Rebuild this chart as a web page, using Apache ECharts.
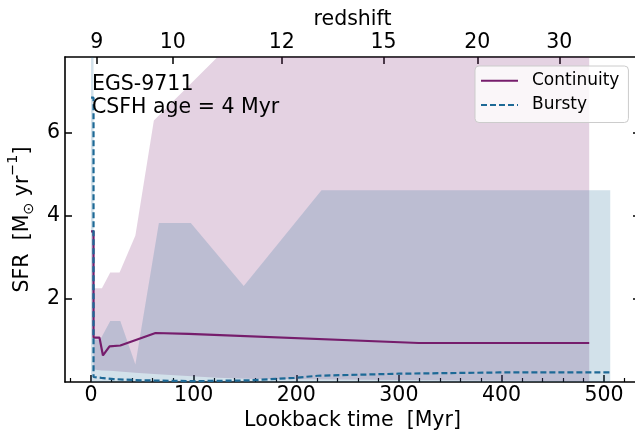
<!DOCTYPE html>
<html><head><meta charset="utf-8">
<script src="https://cdn.jsdelivr.net/npm/echarts@6/dist/echarts.min.js"></script>
<style>html,body{margin:0;padding:0;background:#fff}#c{width:635px;height:430px}</style>
</head><body><div id="c"></div>
<script>
// ---- data ----
const contT = [0, 2.4, 2.4, 8.2, 11.6, 18, 28.5, 62.8, 95.2, 319.4, 485.5];
const contV = [3.63, 3.63, 1.07, 1.07, 0.64, 0.86, 0.88, 1.18, 1.16, 0.94, 0.94];
const contBandT = [2.4, 10.6, 18.7, 27.8, 43.2, 61.2, 123.3, 160, 485.5];
const contUpper = [2.26, 2.26, 2.64, 2.64, 3.53, 6.30, 7.83, 8.6, 9.2];
const contLower = [0.30, 0.28, 0.27, 0.25, 0.22, 0.19, 0.10, 0.07, 0.02];
const burstT = [0, 2.4, 2.4, 10, 22, 50, 100, 155, 198, 221, 300, 398, 506];
const burstV = [6.85, 6.85, 0.12, 0.10, 0.07, 0.04, 0.02, 0.04, 0.10, 0.15, 0.20, 0.23, 0.23];
const burstBandT = [0, 2.4, 2.4, 8.9, 18.7, 28.5, 43.2, 66.1, 97.2, 148.8, 224.6, 506];
const burstUpper = [9.5, 9.5, 1.02, 1.02, 1.47, 1.47, 0.42, 3.83, 3.83, 2.31, 4.62, 4.62];
const burstLower = [0, 0, 0, 0, 0, 0, 0, 0, 0, 0, 0, 0];
const xTicks = [0, 100, 200, 300, 400, 500];
const xMinorTicks = [-20, 20, 40, 60, 80, 120, 140, 160, 180, 220, 240, 260, 280, 320, 340, 360, 380, 420, 440, 460, 480, 520];
const yTicks = [2, 4, 6];
const zTickT = [5.5, 79.6, 185.8, 285.0, 376.5, 456.4];
const zTickLabels = ['9', '10', '12', '15', '20', '30'];

const X_MIN = -25.4, X_MAX = 535.0, Y_MIN = 0, Y_MAX = 7.83;
const C_CONT = '#761d6c', C_BURST = '#1d6996';
const FONT = 'DejaVu Sans';
const FS = 20.5;

function pairs(T, V) { return T.map((t, i) => [t, V[i]]); }
function band(name, T, U, L, fill, z) {
  return {
    type: 'custom', name: name, xAxisIndex: 0, yAxisIndex: 0, z: z, silent: true,
    data: [[0, 0]],
    renderItem: function (params, api) {
      const pts = [];
      for (let i = 0; i < T.length; i++) pts.push(api.coord([T[i], U[i]]));
      for (let i = T.length - 1; i >= 0; i--) pts.push(api.coord([T[i], L[i]]));
      const cs = params.coordSys;
      return {
        type: 'polygon', shape: { points: pts }, style: { fill: fill },
        clipPath: { type: 'rect', shape: { x: cs.x, y: cs.y, width: cs.width, height: cs.height } }
      };
    }
  };
}

const tickStyle = { color: '#000', width: 1.5 };
const axisLineStyle = { color: '#000', width: 1.6 };
const labelStyle = { color: '#000', fontSize: FS, fontFamily: FONT };

const chart = echarts.init(document.getElementById('c'), null, { renderer: 'canvas' });
chart.setOption({
  animation: false,
  backgroundColor: '#fff',
  textStyle: { fontFamily: FONT },
  grid: { left: 65, top: 57, width: 575, height: 325, containLabel: false, outerBoundsMode: 'none' },
  legend: {
    data: ['Continuity', 'Bursty'], orient: 'vertical', left: 475, top: 66,
    itemWidth: 37, itemHeight: 10, itemGap: 7.3,
    padding: [6.2, 9, 9, 5],
    itemStyle: { opacity: 0 },
    backgroundColor: 'rgba(255,255,255,0.8)', borderColor: '#cccccc', borderWidth: 1, borderRadius: 4,
    textStyle: { fontSize: 17, color: '#000', fontFamily: FONT, lineHeight: 17, padding: [0, 0, 0, 9] }
  },
  xAxis: [
    {
      type: 'value', position: 'bottom', min: X_MIN, max: X_MAX,
      name: 'Lookback time  [Myr]', nameLocation: 'middle', nameGap: 28, nameMoveOverlap: false,
      nameTextStyle: labelStyle,
      axisLine: { show: true, onZero: false, lineStyle: axisLineStyle },
      axisTick: { show: true, inside: true, length: 7, lineStyle: tickStyle, customValues: xTicks },
      axisLabel: { show: true, margin: 3, customValues: xTicks, color: '#000', fontSize: FS, fontFamily: FONT },
      splitLine: { show: false }
    },
    {
      type: 'value', position: 'top', min: X_MIN, max: X_MAX,
      name: 'redshift', nameLocation: 'middle', nameGap: 27, nameMoveOverlap: false,
      nameTextStyle: labelStyle,
      axisLine: { show: true, onZero: false, lineStyle: axisLineStyle },
      axisTick: { show: true, inside: true, length: 7, lineStyle: tickStyle, customValues: zTickT },
      axisLabel: {
        show: true, margin: 4, customValues: zTickT, color: '#000', fontSize: FS, fontFamily: FONT,
        formatter: function (v) {
          let best = 0;
          for (let i = 1; i < zTickT.length; i++) if (Math.abs(zTickT[i] - v) < Math.abs(zTickT[best] - v)) best = i;
          return zTickLabels[best];
        }
      },
      splitLine: { show: false }
    },
    {
      type: 'value', position: 'bottom', min: X_MIN, max: X_MAX, offset: 0,
      axisLine: { show: false, onZero: false },
      axisTick: { show: true, inside: true, length: 4, lineStyle: { color: '#000', width: 1.2 }, customValues: xMinorTicks },
      axisLabel: { show: false },
      splitLine: { show: false }
    }
  ],
  yAxis: [
    {
      type: 'value', position: 'left', min: Y_MIN, max: Y_MAX,
      name: 'SFR  [M{sub|⊙} yr{sup|−1}]', nameLocation: 'middle', nameGap: 32, nameRotate: 90, nameMoveOverlap: false,
      nameTextStyle: {
        color: '#000', fontSize: FS, fontFamily: FONT,
        rich: {
          sub: { fontSize: 14.3, fontFamily: FONT, color: '#000', verticalAlign: 'bottom', lineHeight: 14.3, padding: [0, 0, -3, 0] },
          sup: { fontSize: 14.3, fontFamily: FONT, color: '#000', verticalAlign: 'top', lineHeight: 14.3, padding: [-6, 0, 0, 0] }
        }
      },
      axisLine: { show: true, onZero: false, lineStyle: axisLineStyle },
      axisTick: { show: true, inside: true, length: 7, lineStyle: tickStyle, customValues: yTicks },
      axisLabel: { show: true, margin: 5, customValues: yTicks, color: '#000', fontSize: FS, fontFamily: FONT },
      splitLine: { show: false }
    },
    {
      type: 'value', position: 'right', min: Y_MIN, max: Y_MAX,
      axisLine: { show: true, onZero: false, lineStyle: axisLineStyle },
      axisTick: { show: true, inside: true, length: 7, lineStyle: tickStyle, customValues: yTicks },
      axisLabel: { show: false },
      splitLine: { show: false }
    }
  ],
  series: [
    band('contBand', contBandT, contUpper, contLower, 'rgba(118,29,108,0.2)', 1),
    band('burstBand', burstBandT, burstUpper, burstLower, 'rgba(29,105,150,0.2)', 2),
    {
      type: 'line', name: 'Continuity', data: pairs(contT, contV), xAxisIndex: 0, yAxisIndex: 0,
      symbol: 'none', z: 5, lineStyle: { color: C_CONT, width: 2.2 }, itemStyle: { color: C_CONT }
    },
    {
      type: 'line', name: 'Bursty', data: pairs(burstT, burstV), xAxisIndex: 0, yAxisIndex: 0,
      symbol: 'none', z: 6, lineStyle: { color: C_BURST, width: 2.2, type: [6, 3] }, itemStyle: { color: C_BURST }
    }
  ],
  graphic: [
    {
      type: 'text', left: 92, top: 73, z: 10,
      style: { text: 'EGS-9711\nCSFH age = 4 Myr', font: FS + 'px "DejaVu Sans"', fill: '#000', lineHeight: 23.3 }
    }
  ]
});
</script></body></html>
